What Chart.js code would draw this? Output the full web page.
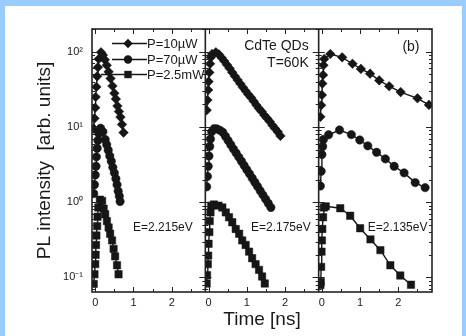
<!DOCTYPE html>
<html>
<head>
<meta charset="utf-8">
<script src="https://cdn.jsdelivr.net/npm/chart.js@4.4.1/dist/chart.umd.min.js"></script>
<style>
  html, body { margin: 0; padding: 0; background: #99ccff; }
  body { width: 466px; height: 336px; overflow: hidden; position: relative; }
  #wrap { position: absolute; left: 5px; top: 6px; width: 457px; height: 330px; background: #fff; }
  canvas { display: block; }
</style>
</head>
<body>
<div id="wrap"><canvas id="chart" width="457" height="330"></canvas></div>
<script>
// --- data (time in ns, PL intensity in arb. units) ---
const seriesLabels = ['P=10\u00b5W', 'P=70\u00b5W', 'P=2.5mW'];
const panelLabels  = ['E=2.215eV', 'E=2.175eV', 'E=2.135eV'];
const xTicks       = [0, 1, 2];
const yTicks       = [0.1, 1, 10, 100];
const yTickLabels  = ['10\u207b\u00b9', '10\u2070', '10\u00b9', '10\u00b2'];

// panel 1, E=2.215eV
const p1Time10 = [-0.04, -0.02, 0, 0.01, 0.03, 0.05, 0.07, 0.09, 0.15, 0.2, 0.25, 0.3, 0.35, 0.4, 0.45, 0.5, 0.54, 0.58, 0.62, 0.66, 0.7, 0.74];
const p1Int10  = [9.5, 13, 18, 25, 34, 47, 62, 80, 98, 90, 78, 66, 54, 44, 35, 28, 23.5, 19, 16, 13.5, 10.8, 8.4];
const p1Time70 = [-0.04, -0.02, 0, 0.02, 0.03, 0.05, 0.07, 0.09, 0.14, 0.2, 0.26, 0.3, 0.34, 0.38, 0.42, 0.46, 0.5, 0.54, 0.57, 0.6, 0.63, 0.65];
const p1Int70  = [1.3, 1.7, 2.3, 3.0, 4.0, 5.2, 6.6, 8.2, 9.6, 8.6, 6.8, 5.8, 4.9, 4.1, 3.5, 2.9, 2.45, 2.05, 1.7, 1.4, 1.2, 1.02];
const p1Time25 = [-0.04, -0.02, 0, 0.01, 0.02, 0.03, 0.05, 0.06, 0.08, 0.12, 0.18, 0.22, 0.26, 0.305, 0.35, 0.39, 0.44, 0.48, 0.52, 0.57, 0.61];
const p1Int25  = [0.082, 0.11, 0.15, 0.2, 0.27, 0.36, 0.48, 0.64, 0.85, 1.08, 1.04, 0.82, 0.69, 0.56, 0.46, 0.38, 0.31, 0.24, 0.19, 0.145, 0.11];

// panel 2, E=2.175eV
const p2Time10 = [-0.05, -0.03, -0.01, 0, 0.02, 0.04, 0.06, 0.09, 0.19, 0.27, 0.34, 0.41, 0.48, 0.55, 0.62, 0.69, 0.76, 0.83, 0.9, 0.97, 1.04, 1.11, 1.18, 1.25, 1.32, 1.39, 1.46, 1.53, 1.6, 1.67, 1.74, 1.81, 1.88];
const p2Int10  = [16.7, 22.7, 31, 40, 53, 69, 84, 93, 98, 92, 83, 75, 67, 60, 53, 47, 42, 37.5, 33.5, 30, 27, 24.5, 22, 19.5, 17.5, 16, 14.3, 13, 11.8, 10.5, 9.5, 8.6, 7.6];
const p2Time70 = [-0.05, -0.03, -0.01, 0.01, 0.03, 0.05, 0.08, 0.15, 0.22, 0.3, 0.37, 0.44, 0.51, 0.58, 0.65, 0.72, 0.79, 0.86, 0.93, 1.0, 1.07, 1.14, 1.21, 1.28, 1.35, 1.42, 1.49, 1.56, 1.63];
const p2Int70  = [1.6, 2.2, 3.0, 4.1, 5.5, 6.9, 8.6, 9.5, 9.4, 9.0, 8.5, 7.5, 6.6, 5.8, 5.1, 4.5, 3.97, 3.5, 3.07, 2.7, 2.38, 2.09, 1.84, 1.62, 1.42, 1.25, 1.1, 0.97, 0.85];
const p2Time25 = [-0.05, -0.04, -0.02, -0.01, 0, 0.02, 0.03, 0.05, 0.07, 0.14, 0.26, 0.36, 0.45, 0.535, 0.62, 0.71, 0.8, 0.88, 0.97, 1.06, 1.14, 1.23, 1.32, 1.4, 1.47];
const p2Int25  = [0.083, 0.107, 0.15, 0.195, 0.28, 0.4, 0.56, 0.73, 0.9, 0.93, 0.9, 0.85, 0.73, 0.63, 0.54, 0.44, 0.38, 0.31, 0.27, 0.22, 0.18, 0.15, 0.126, 0.103, 0.083];

// panel 3, E=2.135eV
const p3Time10 = [-0.04, -0.02, 0, 0.01, 0.03, 0.04, 0.06, 0.22, 0.53, 0.8, 1.02, 1.26, 1.5, 1.76, 2.06, 2.5, 2.8];
const p3Int10  = [13.6, 19.4, 26.5, 37.6, 49, 66, 80, 93, 84, 69, 59, 51, 41.5, 34.7, 29, 24, 19.6];
const p3Time70 = [-0.04, -0.02, 0, 0.02, 0.04, 0.175, 0.46, 0.77, 0.99, 1.2, 1.43, 1.66, 1.89, 2.15, 2.44, 2.7];
const p3Int70  = [1.64, 2.57, 4.3, 5.5, 6.8, 7.85, 9.1, 7.9, 6.7, 5.6, 4.6, 3.76, 3.0, 2.45, 1.82, 1.56];
const p3Time25 = [-0.04, -0.03, -0.02, -0.01, 0, 0.01, 0.03, 0.05, 0.1, 0.48, 0.74, 1.0, 1.27, 1.53, 1.79, 2.05, 2.33];
const p3Int25  = [0.079, 0.087, 0.138, 0.22, 0.31, 0.44, 0.63, 0.85, 0.88, 0.83, 0.66, 0.45, 0.32, 0.23, 0.145, 0.106, 0.08];

// --- styles ---
const INK = '#161616';
const markers = [
  { style: 'rectRot', radius: 4.8 },
  { style: 'circle',  radius: 4.2 },
  { style: 'rect',    radius: 5.2 }
];
const panels = ['x1', 'x2', 'x3'];

const pairs = [
  [[p1Time10, p1Int10], [p1Time70, p1Int70], [p1Time25, p1Int25]],
  [[p2Time10, p2Int10], [p2Time70, p2Int70], [p2Time25, p2Int25]],
  [[p3Time10, p3Int10], [p3Time70, p3Int70], [p3Time25, p3Int25]]
];

const datasets = [];
pairs.forEach((panel, p) => {
  panel.forEach(([t, v], s) => {
    datasets.push({
      label: seriesLabels[s],
      xAxisID: panels[p],
      yAxisID: 'y',
      data: t.map((x, i) => ({ x: x, y: v[i] })),
      borderColor: INK,
      borderWidth: 1.4,
      backgroundColor: INK,
      pointStyle: markers[s].style,
      pointRadius: markers[s].radius,
      pointBackgroundColor: INK,
      pointBorderColor: INK,
      pointBorderWidth: 0.5,
      tension: 0
    });
  });
});

// --- frame, inward ticks, legend and labels ---
const framePlugin = {
  id: 'frame',
  afterDatasetsDraw(chart) {
    const { ctx, chartArea: a, scales } = chart;
    const y = scales.y;
    ctx.save();
    ctx.strokeStyle = '#222';

    // y minor / major tick values inside range
    const yVals = [];
    for (let d = -2; d <= 2; d++) {
      for (let m = 1; m <= 9; m++) {
        const val = m * Math.pow(10, d);
        if (val >= y.min && val <= y.max) yVals.push({ val, major: m === 1 });
      }
    }

    ctx.lineWidth = 1;
    panels.forEach((id) => {
      const s = scales[id];
      // x ticks, bottom and top, pointing inward
      [0, 0.5, 1, 1.5, 2, 2.5].forEach((v) => {
        const px = Math.round(s.getPixelForValue(v)) + 0.5;
        const len = Number.isInteger(v) ? 5 : 3;
        ctx.beginPath();
        ctx.moveTo(px, a.bottom); ctx.lineTo(px, a.bottom - len);
        ctx.moveTo(px, a.top);    ctx.lineTo(px, a.top + len);
        ctx.stroke();
      });
      // y ticks on both edges of every panel
      yVals.forEach(({ val, major }) => {
        const py = Math.round(y.getPixelForValue(val)) + 0.5;
        const len = major ? 6 : 3;
        ctx.beginPath();
        ctx.moveTo(s.left, py);  ctx.lineTo(s.left + len, py);
        ctx.moveTo(s.right, py); ctx.lineTo(s.right - len, py);
        ctx.stroke();
      });
    });

    // panel dividers and outer frame
    ctx.lineWidth = 1.6;
    [scales.x2.left, scales.x3.left].forEach((px) => {
      ctx.beginPath();
      ctx.moveTo(px, a.top); ctx.lineTo(px, a.bottom);
      ctx.stroke();
    });
    ctx.strokeRect(a.left, a.top, a.right - a.left, a.bottom - a.top);

    // legend (line + marker + text)
    const rows = [
      { y: a.top + 14.5, x0: a.left + 20 },
      { y: a.top + 30.5, x0: a.left + 20 },
      { y: a.top + 45.5, x0: a.left + 9 }
    ];
    ctx.font = '13px "Liberation Sans", Arial, sans-serif';
    ctx.textBaseline = 'middle';
    ctx.textAlign = 'left';
    rows.forEach((r, i) => {
      ctx.strokeStyle = INK;
      ctx.lineWidth = 1.4;
      ctx.beginPath();
      ctx.moveTo(r.x0, r.y); ctx.lineTo(a.left + 55, r.y);
      ctx.stroke();
      ctx.fillStyle = INK;
      Chart.helpers.drawPoint(ctx, {
        pointStyle: markers[i].style, radius: markers[i].radius, rotation: 0, borderWidth: 0
      }, a.left + 36, r.y);
      ctx.fillStyle = '#1a1a1a';
      ctx.fillText(seriesLabels[i], a.left + 55, r.y + 0.5);
    });

    // annotations
    ctx.fillStyle = '#1a1a1a';
    ctx.font = '12px "Liberation Sans", Arial, sans-serif';
    ctx.textAlign = 'center';
    const ePos = [1.77, 1.89, 1.98];
    panels.forEach((id, p) => {
      ctx.fillText(panelLabels[p], scales[id].getPixelForValue(ePos[p]), y.getPixelForValue(0.46));
    });
    ctx.font = '14px "Liberation Sans", Arial, sans-serif';
    ctx.textAlign = 'right';
    ctx.fillText('CdTe QDs', scales.x2.getPixelForValue(2.62), y.getPixelForValue(117));
    ctx.fillText('T=60K', scales.x2.getPixelForValue(2.62), y.getPixelForValue(70));
    ctx.textAlign = 'center';
    ctx.fillText('(b)', scales.x3.getPixelForValue(2.33), y.getPixelForValue(114));
    ctx.restore();
  }
};

Chart.defaults.font.family = '"Liberation Sans", Arial, sans-serif';
Chart.defaults.color = '#1a1a1a';

function xAxis(withTitle) {
  return {
    type: 'linear',
    position: 'bottom',
    stack: 'time',
    stackWeight: 1,
    min: -0.085,
    max: 2.88,
    grid: { display: false, drawTicks: false },
    border: { display: false },
    ticks: { font: { size: 11 }, padding: 4, maxRotation: 0 },
    afterBuildTicks: (s) => { s.ticks = xTicks.map((v) => ({ value: v })); },
    afterFit: (s) => { s.height = 44; },
    title: {
      display: withTitle,
      text: 'Time [ns]',
      font: { size: 19 },
      padding: { top: 0, bottom: 5 }
    }
  };
}

new Chart(document.getElementById('chart'), {
  type: 'line',
  data: { datasets },
  options: {
    responsive: false,
    animation: false,
    devicePixelRatio: 1,
    layout: { padding: { left: 0, right: 30, top: 23, bottom: 0 } },
    plugins: { legend: { display: false }, tooltip: { enabled: false } },
    scales: {
      x1: xAxis(false),
      x2: xAxis(true),
      x3: xAxis(false),
      y: {
        type: 'logarithmic',
        position: 'left',
        min: 0.064,
        max: 200,
        grid: { display: false, drawTicks: false },
        border: { display: false },
        ticks: {
          font: { size: 11 },
          padding: 9,
          callback: (v) => {
            const i = yTicks.indexOf(v);
            return i >= 0 ? yTickLabels[i] : '';
          }
        },
        afterBuildTicks: (s) => { s.ticks = yTicks.map((v) => ({ value: v })); },
        afterFit: (s) => { s.width = 87; },
        title: {
          display: true,
          text: 'PL intensity  [arb. units]',
          font: { size: 19 },
          padding: { top: 28, bottom: 0 }
        }
      }
    }
  },
  plugins: [framePlugin]
});
</script>
</body>
</html>
